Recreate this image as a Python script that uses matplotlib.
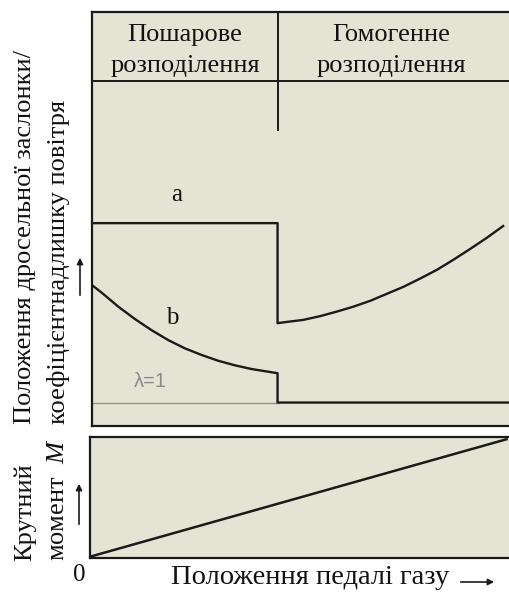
import matplotlib
matplotlib.use("Agg")
import matplotlib.pyplot as plt
from matplotlib.patches import FancyArrowPatch

plt.rcParams['font.family'] = ['Liberation Serif', 'DejaVu Serif']
plt.rcParams['mathtext.fontset'] = 'custom'
plt.rcParams['mathtext.rm'] = 'Liberation Serif'
plt.rcParams['mathtext.it'] = 'Liberation Serif:italic'

# ---- data (pedal position 0..100, relative values 0..100) ----
boundary = 44.5
header_y = 83.4
divider_bottom = 71.5

curve_a_x = [0, 44.5, 44.5, 46.7, 50.7, 54.7, 58.7, 62.7, 66.7, 70.7,
             74.7, 78.7, 82.7, 86.6, 90.6, 94.6, 98.6]
curve_a_y = [49, 49, 24.8, 25.1, 25.6, 26.5, 27.6, 28.8, 30.2, 31.9,
             33.6, 35.6, 37.7, 40.1, 42.7, 45.4, 48.3]

curve_b_x = [0, 2.3, 6.3, 10.3, 14.3, 18.3, 22.3, 26.3, 30.3, 34.3, 38.3,
             44.5, 44.5, 100]
curve_b_y = [34.0, 32.2, 28.8, 25.8, 23.1, 20.7, 18.7, 17.1, 15.7, 14.6, 13.7,
             12.7, 5.6, 5.6]

lambda1_x = [0, 44.5]
lambda1_y = [5.6, 5.6]

torque_x = [0, 99.4]
torque_y = [1.3, 97.9]

mode_line1 = ["Пошарове", "Гомогенне"]
mode_line2 = ["розподілення", "розподілення"]
mode_x = [22.3, 71.7]

W, H = 509, 593
BG = '#E4E4D5'
LC = '#1a1a1a'
TC = '#111111'
FS = 19

fig = plt.figure(figsize=(W / 100, H / 100), dpi=100)


def fx(px):
    return px / W


def fy(py):
    return 1 - py / H


# top axes
ax1 = fig.add_axes([fx(92), fy(425.7), 1 - fx(92), fy(12.3) - fy(425.7)])
ax1.set_facecolor(BG)
ax1.set_xlim(0, 100)
ax1.set_ylim(0, 100)
ax1.set_xticks([])
ax1.set_yticks([])
for s in ['left', 'top', 'bottom']:
    ax1.spines[s].set_linewidth(1.6)
    ax1.spines[s].set_color(LC)
ax1.spines['right'].set_visible(False)

ax1.plot([0, 100], [header_y, header_y], color=LC, lw=1.4)
ax1.plot([boundary, boundary], [100, divider_bottom], color=LC, lw=1.4)
ax1.plot(lambda1_x, lambda1_y, color='#909090', lw=1.0)
ax1.plot(curve_a_x, curve_a_y, color=LC, lw=1.7, solid_joinstyle='round')
ax1.plot(curve_b_x, curve_b_y, color=LC, lw=1.7, solid_joinstyle='round')

for l1, l2, x in zip(mode_line1, mode_line2, mode_x):
    ax1.text(x, 93.1, l1, ha='center', va='baseline', fontsize=FS, color=TC)
    ax1.text(x, 85.5, l2, ha='center', va='baseline', fontsize=FS, color=TC)

ax1.text(20.4, 55.8, 'a', ha='center', va='center', fontsize=18, color=TC)
ax1.text(19.2, 26.0, 'b', ha='center', va='center', fontsize=18, color=TC)
ax1.text(13.9, 10.6, 'λ=1', ha='center', va='center', fontsize=14.5,
         color='#8a8a8a', family=['Liberation Sans', 'DejaVu Sans'])

# bottom axes
ax2 = fig.add_axes([fx(90), fy(558.3), 1 - fx(90), fy(436.7) - fy(558.3)])
ax2.set_facecolor(BG)
ax2.set_xlim(0, 100)
ax2.set_ylim(0, 100)
ax2.set_xticks([])
ax2.set_yticks([])
for s in ['left', 'top', 'bottom']:
    ax2.spines[s].set_linewidth(1.6)
    ax2.spines[s].set_color(LC)
ax2.spines['right'].set_visible(False)
ax2.plot(torque_x, torque_y, color=LC, lw=1.8)

# labels
fig.text(fx(25), fy(424), 'Положення дросельної заслонки/', rotation=90,
         ha='center', va='bottom', fontsize=FS, color=TC)
fig.text(fx(59), fy(424), 'коефіцієнтнадлишку повітря', rotation=90,
         ha='center', va='bottom', fontsize=FS, color=TC)
fig.text(fx(25), fy(561), 'Крутний', rotation=90,
         ha='center', va='bottom', fontsize=FS, color=TC)
fig.text(fx(58), fy(561), 'момент  $M$', rotation=90,
         ha='center', va='bottom', fontsize=FS, color=TC)
fig.text(fx(79), fy(575), '0', ha='center', va='center', fontsize=18, color=TC)
fig.text(fx(310), fy(577), 'Положення педалі газу', ha='center', va='center',
         fontsize=20.5, color=TC)

for (x0, y0, x1, y1) in [(80, 298, 80, 255), (79, 527, 79, 481), (458, 582, 497, 582)]:
    fig.add_artist(FancyArrowPatch((fx(x0), fy(y0)), (fx(x1), fy(y1)),
                                   transform=fig.transFigure, arrowstyle='-|>',
                                   mutation_scale=9, lw=1.2, color=LC))

fig.savefig('out.png', dpi=100, facecolor='white')
